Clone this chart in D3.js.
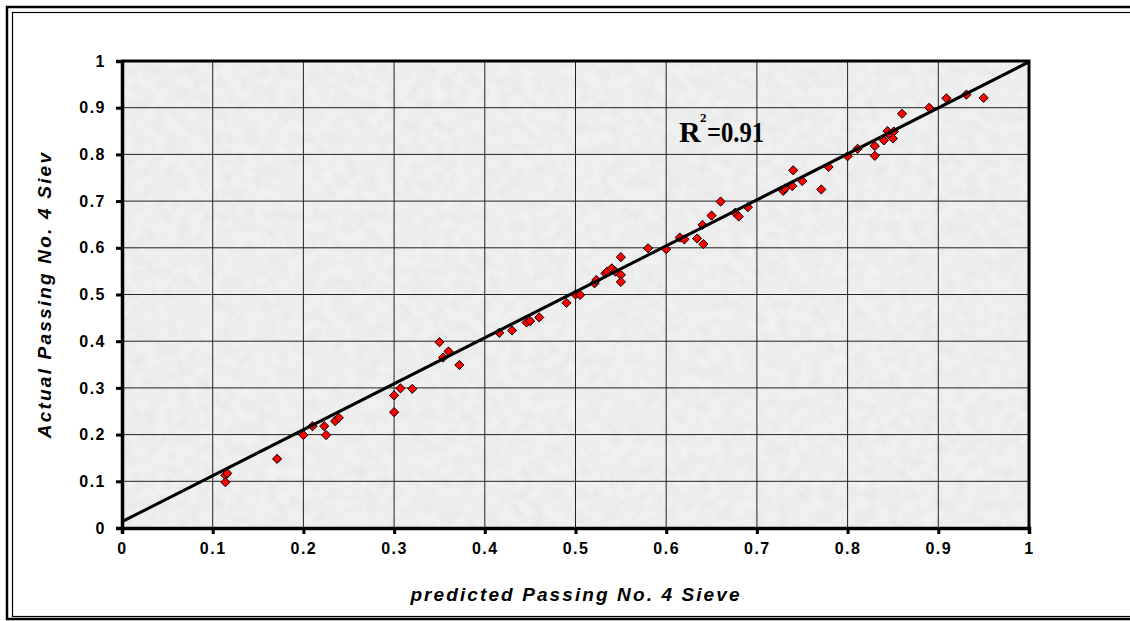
<!DOCTYPE html>
<html>
<head>
<meta charset="utf-8">
<script src="https://cdn.jsdelivr.net/npm/d3@7"></script>
<style>
  body { margin: 0; background: #fff; }
  svg { display: block; }
</style>
</head>
<body>
<svg id="chart" width="1130" height="621"></svg>
<script>
// predicted vs actual passing No. 4 sieve
var predicted = [0.114, 0.116, 0.114, 0.171, 0.200, 0.210, 0.223, 0.225, 0.235, 0.239,
  0.300, 0.300, 0.307, 0.320, 0.350, 0.354, 0.360, 0.372, 0.416, 0.430,
  0.446, 0.450, 0.460, 0.490, 0.500, 0.505, 0.521, 0.523, 0.533, 0.535,
  0.540, 0.544, 0.550, 0.550, 0.550, 0.580, 0.600, 0.615, 0.620, 0.634,
  0.641, 0.640, 0.650, 0.660, 0.676, 0.680, 0.690, 0.729, 0.731, 0.739,
  0.740, 0.750, 0.771, 0.779, 0.800, 0.811, 0.830, 0.830, 0.840, 0.844,
  0.846, 0.851, 0.850, 0.860, 0.890, 0.909, 0.931, 0.950];
var actual = [0.113, 0.117, 0.098, 0.148, 0.199, 0.218, 0.218, 0.199, 0.229, 0.236,
  0.248, 0.284, 0.299, 0.298, 0.398, 0.365, 0.378, 0.349, 0.418, 0.423,
  0.440, 0.443, 0.451, 0.482, 0.500, 0.499, 0.524, 0.531, 0.545, 0.549,
  0.556, 0.549, 0.542, 0.527, 0.580, 0.599, 0.597, 0.622, 0.618, 0.620,
  0.608, 0.649, 0.669, 0.699, 0.675, 0.667, 0.687, 0.722, 0.727, 0.732,
  0.766, 0.743, 0.725, 0.773, 0.796, 0.812, 0.818, 0.797, 0.830, 0.850,
  0.842, 0.849, 0.834, 0.887, 0.900, 0.920, 0.928, 0.921];
// linear trendline ends
var trendX = [0, 1];
var trendY = [0.0135, 0.998];
var tickValues = [0, 0.1, 0.2, 0.3, 0.4, 0.5, 0.6, 0.7, 0.8, 0.9, 1];
var tickLabels = ["0", "0.1", "0.2", "0.3", "0.4", "0.5", "0.6", "0.7", "0.8", "0.9", "1"];

var svg = d3.select("#chart");
// note: "top" is taken by window.top, so use plot* names
var plotL = 122, plotR = 1029, plotT = 61, plotB = 528;

var x = d3.scaleLinear().domain([0, 1]).range([plotL, plotR]);
var y = d3.scaleLinear().domain([0, 1]).range([plotB, plotT]);

// double frame round the chart
svg.append("rect").attr("x", 7).attr("y", 7).attr("width", 1140).attr("height", 612)
  .attr("fill", "none").attr("stroke", "#000").attr("stroke-width", 2.5);
svg.append("rect").attr("x", 12.5).attr("y", 12.5).attr("width", 1140).attr("height", 604)
  .attr("fill", "none").attr("stroke", "#000").attr("stroke-width", 1.2);

// textured grey plot area
var defs = svg.append("defs");
var f = defs.append("filter").attr("id", "tex").attr("x", 0).attr("y", 0).attr("width", 1).attr("height", 1);
f.append("feTurbulence").attr("type", "fractalNoise").attr("baseFrequency", 0.09)
  .attr("numOctaves", 4).attr("seed", 7).attr("result", "n");
f.append("feColorMatrix").attr("in", "n").attr("type", "matrix")
  .attr("values", "0.12 0 0 0 0.79  0.12 0 0 0 0.79  0.12 0 0 0 0.79  0 0 0 0 1");
svg.append("rect").attr("x", plotL).attr("y", plotT).attr("width", plotR - plotL).attr("height", plotB - plotT)
  .attr("fill", "#d8d8d8").attr("filter", "url(#tex)");

// grid
svg.append("g").selectAll("line").data(tickValues.slice(1, -1)).join("line")
  .attr("x1", d => x(d)).attr("x2", d => x(d)).attr("y1", plotT).attr("y2", plotB)
  .attr("stroke", "#222").attr("stroke-width", 1);
svg.append("g").selectAll("line").data(tickValues.slice(1, -1)).join("line")
  .attr("y1", d => y(d)).attr("y2", d => y(d)).attr("x1", plotL).attr("x2", plotR)
  .attr("stroke", "#222").attr("stroke-width", 1);

// plot border (top/right)
svg.append("path")
  .attr("d", "M" + plotL + "," + plotT + "H" + plotR + "V" + plotB)
  .attr("fill", "none").attr("stroke", "#000").attr("stroke-width", 3);

// axes
var xAxis = d3.axisBottom(x).tickValues(tickValues).tickSize(6).tickPadding(9)
  .tickFormat((d, i) => tickLabels[i]);
var yAxis = d3.axisLeft(y).tickValues(tickValues).tickSize(6).tickPadding(10)
  .tickFormat((d, i) => tickLabels[i]);
var gx = svg.append("g").attr("transform", "translate(0," + plotB + ")").call(xAxis);
var gy = svg.append("g").attr("transform", "translate(" + plotL + ",0)").call(yAxis);
[gx, gy].forEach(function(g) {
  g.attr("font-family", "Liberation Sans, Arial, sans-serif").attr("font-size", 16)
    .attr("font-weight", "bold");
  g.select(".domain").attr("stroke", "#000").attr("stroke-width", 3.5);
  g.selectAll(".tick line").attr("stroke", "#000").attr("stroke-width", 3);
  g.selectAll(".tick text").attr("fill", "#000").attr("letter-spacing", 1.5);
});

// points
var pts = predicted.map((p, i) => [p, actual[i]]);
svg.append("g").selectAll("path").data(pts).join("path")
  .attr("transform", d => "translate(" + x(d[0]) + "," + y(d[1]) + ")")
  .attr("d", "M0,-4.6L4.6,0L0,4.6L-4.6,0Z")
  .attr("fill", "#ff0000").attr("stroke", "#000").attr("stroke-width", 1);

// trendline
svg.append("line")
  .attr("x1", x(trendX[0])).attr("y1", y(trendY[0]))
  .attr("x2", x(trendX[1])).attr("y2", y(trendY[1]))
  .attr("stroke", "#000").attr("stroke-width", 3);

// R squared label, squeezed like the original
var r2 = svg.append("text").attr("x", 679).attr("y", 142)
  .attr("font-family", "Liberation Serif, Times New Roman, serif")
  .attr("font-weight", "bold").attr("font-size", 30).attr("fill", "#000");
r2.append("tspan").text("R");
r2.append("tspan").attr("x", 700).attr("y", 122).attr("font-size", 13).text("2");
r2.append("tspan").attr("x", 707).attr("y", 142).attr("textLength", 57)
  .attr("lengthAdjust", "spacingAndGlyphs").text("=0.91");

// axis titles
svg.append("text").attr("x", 576).attr("y", 601)
  .attr("text-anchor", "middle")
  .attr("font-family", "Liberation Sans, Arial, sans-serif")
  .attr("font-weight", "bold").attr("font-style", "italic").attr("font-size", 19)
  .attr("letter-spacing", 2.1)
  .text("predicted Passing No. 4 Sieve");
svg.append("text").attr("transform", "translate(51," + ((plotT + plotB) / 2) + ") rotate(-90)")
  .attr("text-anchor", "middle")
  .attr("font-family", "Liberation Sans, Arial, sans-serif")
  .attr("font-weight", "bold").attr("font-style", "italic").attr("font-size", 19)
  .attr("letter-spacing", 2.2)
  .text("Actual Passing No. 4 Siev");
</script>
</body>
</html>
